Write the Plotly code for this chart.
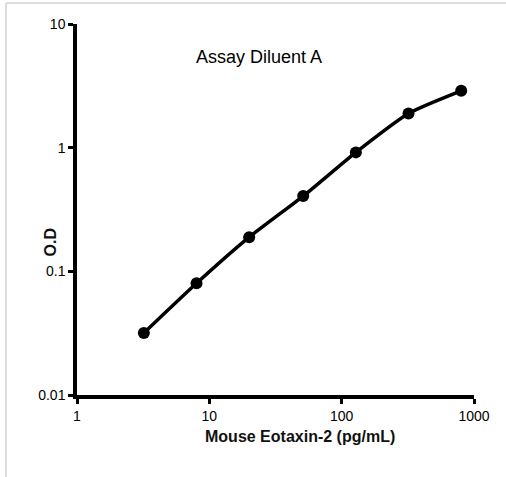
import plotly.graph_objects as go

concentration = [3.2, 8, 20, 51.2, 128, 320, 800]
od_values = [0.0317, 0.080, 0.189, 0.406, 0.916, 1.89, 2.88]
x_tick_vals = [1, 10, 100, 1000]
x_tick_text = ["1", "10", "100", "1000"]
y_tick_vals = [0.01, 0.1, 1, 10]
y_tick_text = ["0.01", "0.1", "1", "10"]

W, H = 506, 477
L, R, T, B = 77, 32, 24, 82
pw, ph = W - L - R, H - T - B

def px(xp):
    return (xp - L) / pw

def py(yp):
    return (H - B - yp) / ph

narrow = "Liberation Sans Narrow, Arial Narrow, Arial, sans-serif"

fig = go.Figure()
fig.add_trace(go.Scatter(
    x=concentration, y=od_values, mode="lines+markers",
    line=dict(color="black", width=3.5, shape="spline", smoothing=0.6),
    marker=dict(color="black", size=12),
    showlegend=False,
))

fig.update_layout(
    width=W, height=H,
    margin=dict(l=L, r=R, t=T, b=B),
    paper_bgcolor="white", plot_bgcolor="white",
    xaxis=dict(
        type="log", range=[0, 3], tickvals=x_tick_vals, ticktext=x_tick_text,
        showgrid=False, zeroline=False, showline=True, linecolor="black", linewidth=3.5,
        ticks="outside", ticklen=5, tickwidth=2.5, tickcolor="black",
        tickfont=dict(family=narrow, size=14, color="#000"),
    ),
    yaxis=dict(
        type="log", range=[-2, 1], tickvals=y_tick_vals, ticktext=y_tick_text,
        showgrid=False, zeroline=False, showline=True, linecolor="black", linewidth=3.5,
        ticks="outside", ticklen=5, tickwidth=2.5, tickcolor="black",
        tickfont=dict(family=narrow, size=14, color="#000"),
    ),
    annotations=[
        dict(text="Assay Diluent A", x=px(259), y=py(45), xref="paper", yref="paper",
             showarrow=False, font=dict(family=narrow, size=18, color="#000")),
        dict(text="<b>Mouse Eotaxin-2 (pg/mL)</b>", x=px(300), y=py(447), xref="paper", yref="paper",
             showarrow=False, font=dict(family=narrow, size=16, color="#111")),
        dict(text="<b>O.D</b>", x=px(39), y=py(243), xref="paper", yref="paper", textangle=-90,
             showarrow=False, font=dict(family="Arial, Liberation Sans, sans-serif", size=16, color="#111")),
    ],
    shapes=[
        dict(type="line", xref="paper", yref="paper", x0=px(6), x1=px(6), y0=py(3), y1=py(H + 2),
             line=dict(color="#dddddd", width=2)),
        dict(type="line", xref="paper", yref="paper", x0=px(6), x1=px(W + 2), y0=py(3), y1=py(3),
             line=dict(color="#dddddd", width=2)),
    ],
)

fig.write_html("out.html", config={"displayModeBar": False},
               post_script="document.body.style.margin='0';document.body.style.overflow='hidden';")
